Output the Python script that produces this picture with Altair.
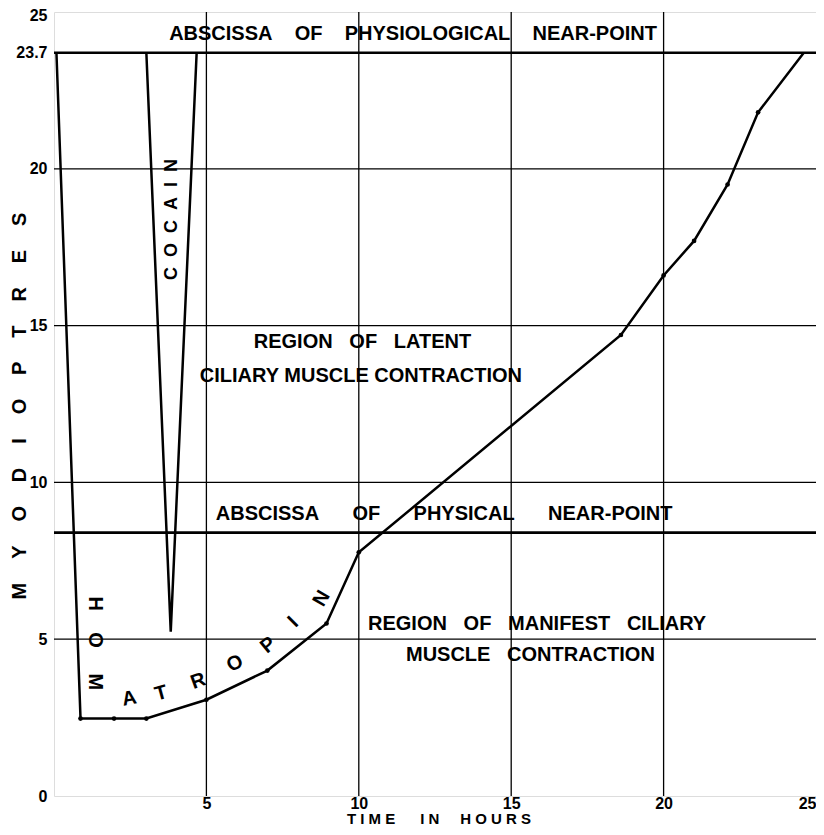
import altair as alt
import pandas as pd

NB = "\u00a0"
HS = "\u200a"

# Homatropin curve (time in hours, myodioptres)
hom_x = [0.08, 0.87, 1.97, 3.03, 5.0, 7.0, 8.94, 10.0, 18.6, 20.0, 21.0, 22.1, 23.1, 24.6]
hom_y = [23.7, 2.47, 2.47, 2.47, 3.07, 4.0, 5.5, 7.77, 14.7, 16.6, 17.7, 19.5, 21.8, 23.7]
hom_dot = [False, True, True, True, True, True, True, True, True, True, True, True, True, False]

# Cocain curve
coc_x = [3.03, 3.83, 4.68]
coc_y = [23.7, 5.24, 23.7]

# Near-point abscissae
near_levels = [23.7, 8.4]

# Grid positions
grid_vals = [5, 10, 15, 20]

# Axis ticks
x_ticks = [5, 10, 15, 20, 25]
y_ticks = [0, 5, 10, 15, 20, 23.7, 25]

# Region / line labels
lab_text = [
    f"ABSCISSA{NB*4}OF{NB*4}PHYSIOLOGICAL{NB*4}NEAR-POINT",
    f"REGION{NB*3}OF{NB*3}LATENT",
    "CILIARY MUSCLE CONTRACTION",
    f"ABSCISSA{NB*6}OF{NB*6}PHYSICAL{NB*6}NEAR-POINT",
    f"REGION{NB*3}OF{NB*3}MANIFEST{NB*3}CILIARY",
    f"MUSCLE{NB*3}CONTRACTION",
]
lab_x = [11.78, 10.12, 10.07, 12.8, 15.85, 15.63]
lab_y = [24.3, 14.47, 13.38, 8.98, 5.5, 4.49]

# HOMATROPIN letters along the curve
hom_letters = ["H", "O", "M", "A", "T", "R", "O", "P", "I", "N"]
hom_lx = [1.35, 1.35, 1.35, 2.47, 3.51, 4.73, 5.94, 7.03, 7.85, 8.78]
hom_ly = [6.13, 4.97, 3.64, 3.11, 3.27, 3.66, 4.23, 4.81, 5.55, 6.3]
hom_la = [90, 90, 90, 350, 345, 340, 330, 320, 315, 300]

# COCAIN label
coc_text = [(NB * 2).join("COCAIN")]
coc_lx = [3.86]
coc_ly = [18.38]

# Axis titles
y_title_text = [(NB * 4 + HS).join("MYODIOPTRES")]
x_title_text = [NB.join("TIME") + NB * 6 + NB.join("IN") + NB * 5 + NB.join("HOURS")]

FONT = "Liberation Sans"
W, H = 762, 784

xs = alt.Scale(domain=[0, 25], nice=False, zero=False)
ys = alt.Scale(domain=[0, 25], nice=False, zero=False)

hom_df = pd.DataFrame({"t": hom_x, "d": hom_y, "i": range(len(hom_x)), "dot": hom_dot})
coc_df = pd.DataFrame({"t": coc_x, "d": coc_y, "i": range(len(coc_x))})

base_x = alt.X(
    "t:Q", scale=xs,
    axis=alt.Axis(values=x_ticks, labelExpr="'' + datum.value", grid=False, ticks=False, domain=False,
                  labelFont=FONT, labelFontWeight="bold", labelFontSize=16, labelColor="black",
                  labelPadding=-1, labelFlush=True, title=None),
)
base_y = alt.Y(
    "d:Q", scale=ys,
    axis=alt.Axis(values=y_ticks, labelExpr="'' + datum.value", grid=False, ticks=False, domain=False,
                  labelFont=FONT, labelFontWeight="bold", labelFontSize=16, labelColor="black",
                  labelPadding=7, labelFlush=False, title=None,
                  labelOffset={"condition": {"test": "datum.value == 25", "value": 3}, "value": 0}),
)

vgrid = alt.Chart(pd.DataFrame({"g": grid_vals})).mark_rule(color="black", strokeWidth=1.3).encode(
    x=alt.X("g:Q", scale=xs), y=alt.datum(0, scale=ys), y2=alt.datum(25)
)
hgrid = alt.Chart(pd.DataFrame({"g": grid_vals})).mark_rule(color="black", strokeWidth=1.3).encode(
    y=alt.Y("g:Q", scale=ys), x=alt.datum(0, scale=xs), x2=alt.datum(25)
)
near = alt.Chart(pd.DataFrame({"g": near_levels})).mark_rule(color="black", strokeWidth=2.6).encode(
    y=alt.Y("g:Q", scale=ys), x=alt.datum(0, scale=xs), x2=alt.datum(25)
)

hom_line = alt.Chart(hom_df).mark_line(color="black", strokeWidth=2.5).encode(
    x=base_x, y=base_y, order="i:Q"
)
hom_pts = alt.Chart(hom_df).transform_filter("datum.dot").mark_circle(
    color="black", size=22, opacity=1
).encode(x=alt.X("t:Q", scale=xs), y=alt.Y("d:Q", scale=ys))
coc_line = alt.Chart(coc_df).mark_line(color="black", strokeWidth=2.5).encode(
    x=alt.X("t:Q", scale=xs), y=alt.Y("d:Q", scale=ys), order="i:Q"
)

labels = alt.Chart(pd.DataFrame({"s": lab_text, "x": lab_x, "y": lab_y})).mark_text(
    font=FONT, fontWeight="bold", fontSize=20, color="black", align="center", baseline="middle"
).encode(x=alt.X("x:Q", scale=xs), y=alt.Y("y:Q", scale=ys), text="s:N")

hom_lab = alt.Chart(pd.DataFrame({"s": hom_letters, "x": hom_lx, "y": hom_ly, "a": hom_la})).mark_text(
    font=FONT, fontWeight="bold", fontSize=20, color="black", align="center", baseline="middle"
).encode(x=alt.X("x:Q", scale=xs), y=alt.Y("y:Q", scale=ys), text="s:N",
         angle=alt.Angle("a:Q", scale=None))

coc_lab = alt.Chart(pd.DataFrame({"s": coc_text, "x": coc_lx, "y": coc_ly})).mark_text(
    font=FONT, fontWeight="bold", fontSize=18, color="black", align="center", baseline="middle", angle=270
).encode(x=alt.X("x:Q", scale=xs), y=alt.Y("y:Q", scale=ys), text="s:N")

y_title = alt.Chart(pd.DataFrame({"s": y_title_text})).mark_text(
    font=FONT, fontWeight="bold", fontSize=20, color="black", align="center", baseline="middle", angle=270
).encode(x=alt.value(-34), y=alt.value(394), text="s:N")

x_title = alt.Chart(pd.DataFrame({"s": x_title_text})).mark_text(
    font=FONT, fontWeight="bold", fontSize=15, color="black", align="center", baseline="middle"
).encode(x=alt.value(385), y=alt.value(807), text="s:N")

chart = alt.layer(
    vgrid, hgrid, near, hom_line, hom_pts, coc_line, labels, hom_lab, coc_lab, y_title, x_title
).properties(
    width=W, height=H,
    autosize=alt.AutoSizeParams(type="none"),
    padding={"left": 46, "top": 4, "right": 0, "bottom": 31},
).configure_view(stroke="black", strokeWidth=2).configure(background="white")

chart.save("out.html", embed_options={"renderer": "svg", "actions": False})
